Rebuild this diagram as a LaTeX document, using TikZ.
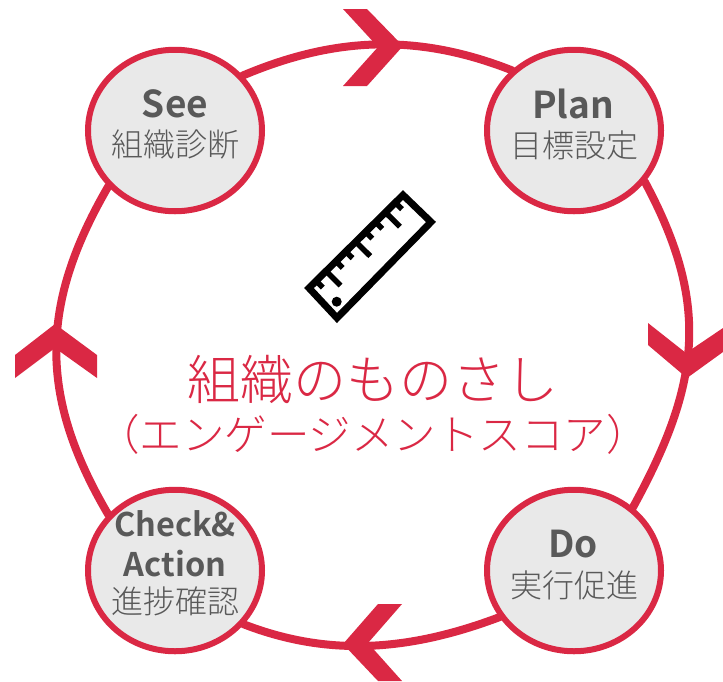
\documentclass[tikz,border=0pt]{standalone}
\usepackage{fontspec}
\setmainfont{Noto Sans CJK JP}
\newfontfamily\jpl{Noto Sans CJK JP Light}
\newfontfamily\jpb{Noto Sans CJK JP Bold}
\usetikzlibrary{backgrounds,shapes.geometric}
\definecolor{crim}{RGB}{218,40,68}
\definecolor{txt}{RGB}{89,89,89}
\definecolor{disc}{RGB}{233,233,233}
\tikzset{
  stage/.style={ellipse,draw=crim,fill=disc,line width=6pt,minimum width=174pt,minimum height=161.5pt,inner sep=0pt,text=txt,align=center},
  ring/.style={draw=crim,line width=8pt,line join=round},
  chev/.style={fill=crim,draw=none},
  en/.style={font=\jpb\fontsize{37}{37}\selectfont,text=txt,inner sep=0pt},
  en2/.style={font=\jpb\fontsize{32.5}{32.5}\selectfont,text=txt,inner sep=0pt},
  jp/.style={font=\jpl\fontsize{32}{32}\selectfont,text=txt,inner sep=0pt},
  title/.style={text=crim,inner sep=0pt,anchor=center},
  rulerline/.style={draw=black,line width=7pt,miter limit=10},
  tick/.style={draw=black,line width=5.5pt}
}
\begin{document}
\begin{tikzpicture}[x=1pt,y=-1pt]
\useasboundingbox (0,0) rectangle (723,681);
\node[stage] (see) at (175,130.5) {};
\node[stage] (plan) at (574,130.5) {};
\node[stage] (do) at (574,570.5) {};
\node[stage] (check) at (175,570.5) {};
\begin{scope}[on background layer]
\draw[ring] (see.center) -- (see.39.6) .. controls (334,37) and (417,33) .. (plan.136) -- (plan.center);
\draw[ring] (plan.center) -- (plan.-36) .. controls (711,305) and (700,385) .. (do.47) -- (do.center);
\draw[ring] (do.center) -- (do.212) .. controls (412,650) and (331,658) .. (check.-38.7) -- (check.center);
\draw[ring] (check.center) -- (check.140.6) .. controls (38,395) and (40,304) .. (see.220.6) -- (see.center);
\end{scope}
\fill[chev] (343,9)--(367,9)--(403,46)--(367,86)--(343,86)--(378,47)--cycle;
\fill[chev] (648,323)--(686,353)--(723,328)--(723,352)--(687,378)--(648,345)--cycle;
\fill[chev] (402,604)--(378,604)--(343,644)--(378,681)--(402,681)--(368,643)--cycle;
\fill[chev] (15,355)--(55,324)--(97,355)--(97,378)--(55,348)--(15,378)--cycle;
\node[en] (t1) at (175,104) {See};
\node[jp] (t2) at (175,145) {組織診断};
\node[en] (t3) at (573,104) {Plan};
\node[jp] (t4) at (574,145) {目標設定};
\node[en] (t5) at (573,544) {Do};
\node[jp] (t6) at (574,585) {実行促進};
\node[en2] (t7) at (175,524) {Check\&};
\node[en2] (t8) at (175,564) {Action};
\node[jp] (t9) at (175,601) {進捗確認};
\node[title,font=\jpl\fontsize{53}{53}\selectfont] (t10) at (373,379) {組織のものさし};
\node[title,font=\jpl\fontsize{42.5}{42.5}\selectfont] (t11) at (373,434) {（エンゲージメントスコア）};
\draw[rulerline] (309,288)--(403,195)--(431,222)--(337,318)--cycle;
\foreach \t/\l in {10.6/10,24.6/21,38.6/10,52.6/10,66.6/21,80.6/10,94.6/10,108.6/21,122.6/10}
  \draw[tick] (308.3+.707*\t,288-.7*\t)--++(.707*\l,.7*\l);
\fill (336.7,301.7) circle (5);
\end{tikzpicture}
\end{document}
